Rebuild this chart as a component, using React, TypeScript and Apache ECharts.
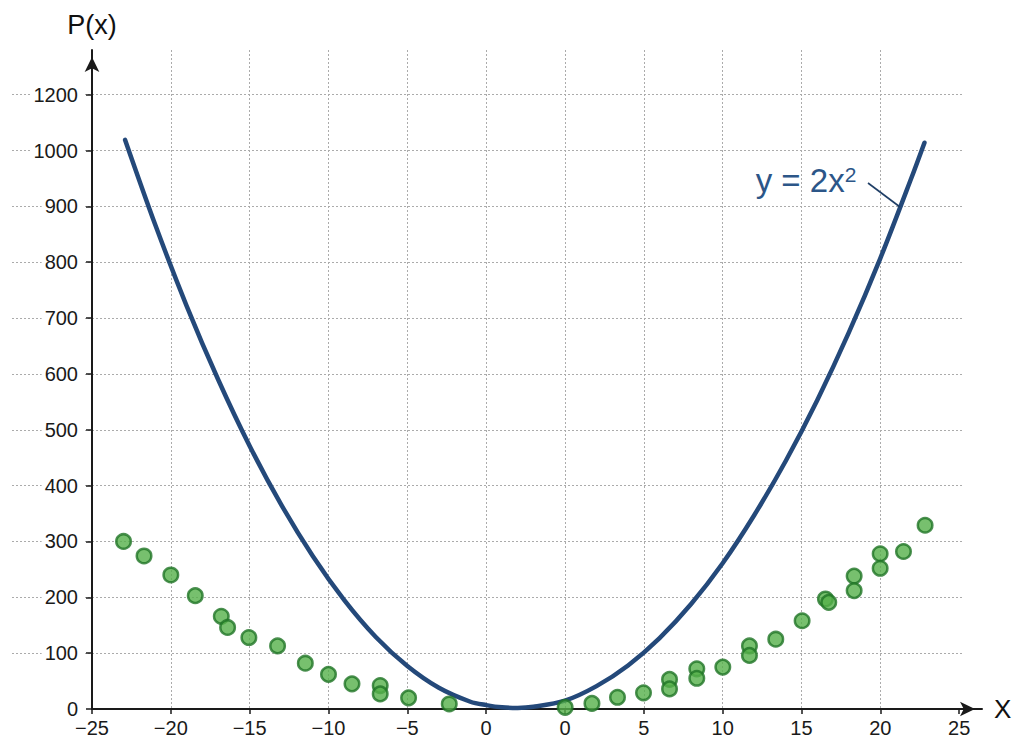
import React, { useEffect, useRef } from "react";
import * as echarts from "echarts";

const X_TICK_POS = [-25, -20, -15, -10, -5, 0, 5, 10, 15, 20, 25, 30];
const X_TICK_LABELS = ["−25", "−20", "−15", "−10", "−5", "0", "0", "5", "10", "15", "20", "25"];
const Y_TICK_POS = [0, 100, 200, 300, 400, 500, 600, 700, 800, 900, 1000, 1100];
const Y_TICK_LABELS = ["0", "100", "200", "300", "400", "500", "600", "700", "800", "900", "1000", "1200"];

// the blue curve (y = 2x²)
const CURVE_X = [-22.9, -21, -19, -17, -15, -13, -11, -9, -7, -5, -3, -1, 0, 1, 2, 3, 5, 7, 9, 11, 13, 15, 17, 19, 21, 23, 25, 27, 27.8];
const CURVE_Y = [1019, 868, 722, 590, 471, 366, 274, 195, 129, 77, 38, 13, 7, 3, 2, 4, 15, 41, 78, 127, 188, 261, 347, 444, 553, 674, 807, 953, 1014];

// green observations
const DOTS_X = [-23.0, -21.7, -20.0, -18.45, -16.8, -16.4, -15.05, -13.23, -11.47, -10.0, -8.51, -6.72, -6.72, -4.92, -2.34, 5.01, 6.71, 8.33, 9.98, 11.63, 11.63, 13.36, 13.36, 15.01, 16.7, 16.7, 18.37, 20.04, 21.52, 21.73, 23.34, 23.34, 24.99, 24.99, 26.47, 27.84];
const DOTS_Y = [300, 274, 240, 203, 166, 146, 128, 113, 82, 62, 45, 42, 27, 20, 9, 3, 10, 21, 29, 53, 36, 72, 55, 75, 113, 96, 125, 158, 197, 191, 238, 212, 278, 252, 282, 329];

const FONT = "'Liberation Sans', Arial, Helvetica, sans-serif";
const GRID_LINE = { color: "#ababab", width: 1, type: [2, 2] as number[] };

export default function App() {
  const ref = useRef<HTMLDivElement>(null);

  useEffect(() => {
    if (!ref.current) return;
    const chart = echarts.init(ref.current, undefined, { renderer: "svg" });

    const curve = CURVE_X.map((x, i) => [x, CURVE_Y[i]]);
    const dots = DOTS_X.map((x, i) => [x, DOTS_Y[i]]);

    const xFmt = (v: number) => {
      const i = X_TICK_POS.indexOf(Math.round(v * 1000) / 1000);
      return i >= 0 ? X_TICK_LABELS[i] : "";
    };
    const yFmt = (v: number) => {
      const i = Y_TICK_POS.indexOf(Math.round(v * 1000) / 1000);
      return i >= 0 ? Y_TICK_LABELS[i] : "";
    };

    const option: any = {
      animation: false,
      backgroundColor: "#ffffff",
      grid: [
        { left: 92, right: 42, top: 50, bottom: 42, outerBoundsMode: "none" },
        { left: 12, right: 62, top: 50, bottom: 42, outerBoundsMode: "none" },
      ],
      xAxis: [
        {
          type: "value",
          gridIndex: 0,
          min: -25,
          max: 31.45,
          interval: 5,
          z: 1,
          name: "X",
          nameLocation: "end",
          nameGap: 12,
          nameTextStyle: { fontSize: 26, color: "#111", fontFamily: FONT, verticalAlign: "middle" },
          axisLine: {
            show: true,
            onZero: false,
            symbol: ["none", "arrow"],
            symbolSize: [11, 15],
            symbolOffset: [0, -7],
            lineStyle: { color: "#1a1a1a", width: 2 },
          },
          axisTick: { show: true, length: 5, customValues: X_TICK_POS, lineStyle: { color: "#1a1a1a", width: 1.5 } },
          axisLabel: {
            show: true,
            customValues: X_TICK_POS,
            formatter: xFmt,
            fontSize: 20,
            color: "#1a1a1a",
            fontFamily: FONT,
            margin: 9,
          },
          splitLine: { show: true, showMinLine: false, showMaxLine: false, lineStyle: GRID_LINE },
        },
        { type: "value", gridIndex: 1, min: 0, max: 1, show: false },
      ],
      yAxis: [
        {
          type: "value",
          gridIndex: 0,
          min: 0,
          max: 1180,
          interval: 100,
          z: 1,
          name: "P(x)",
          nameLocation: "end",
          nameGap: 12,
          nameTextStyle: { fontSize: 27, color: "#111", fontFamily: FONT, align: "center" },
          axisLine: {
            show: true,
            onZero: false,
            symbol: ["none", "arrow"],
            symbolSize: [11, 15],
            symbolOffset: [0, -7],
            lineStyle: { color: "#1a1a1a", width: 2 },
          },
          axisTick: { show: true, length: 6, customValues: Y_TICK_POS, lineStyle: { color: "#1a1a1a", width: 1.5 } },
          axisLabel: {
            show: true,
            customValues: Y_TICK_POS,
            formatter: yFmt,
            fontSize: 20,
            color: "#1a1a1a",
            fontFamily: FONT,
            margin: 7,
            backgroundColor: "#ffffff",
            padding: [1, 7, 1, 3],
          },
          splitLine: { show: false },
        },
        {
          type: "value",
          gridIndex: 1,
          min: 0,
          max: 1180,
          interval: 100,
          z: 0,
          axisLine: { show: false },
          axisTick: { show: false },
          axisLabel: { show: false },
          splitLine: { show: true, showMinLine: false, showMaxLine: false, lineStyle: GRID_LINE },
        },
      ],
      series: [
        {
          type: "line",
          name: "y = 2x²",
          xAxisIndex: 0,
          yAxisIndex: 0,
          data: curve,
          smooth: 0.3,
          showSymbol: false,
          symbol: "none",
          z: 3,
          lineStyle: { color: "#24497a", width: 4.5, cap: "round" },
        },
        {
          type: "scatter",
          name: "P(x)",
          xAxisIndex: 0,
          yAxisIndex: 0,
          data: dots,
          symbol: "circle",
          symbolSize: 14.5,
          z: 4,
          itemStyle: { color: "#55b04a", borderColor: "#1f7426", borderWidth: 2.5 },
        },
      ],
      graphic: [
        {
          type: "text",
          x: 806,
          y: 180,
          z: 10,
          style: {
            text: "{a|y = 2x}{b|2}",
            textAlign: "center",
            textVerticalAlign: "middle",
            rich: {
              a: { fontSize: 33, fontFamily: FONT, fill: "#2c5688", color: "#2c5688" },
              b: { fontSize: 21, fontFamily: FONT, fill: "#2c5688", color: "#2c5688", verticalAlign: "top" },
            },
          },
        },
        {
          type: "line",
          z: 10,
          shape: { x1: 868, y1: 183, x2: 900, y2: 207 },
          style: { stroke: "#1f3e66", lineWidth: 1.6 },
        },
      ],
    };

    chart.setOption(option);
    return () => chart.dispose();
  }, []);

  return (
    <div
      ref={ref}
      style={{ position: "fixed", left: 0, top: 0, width: 1024, height: 751, background: "#fff" }}
    />
  );
}
